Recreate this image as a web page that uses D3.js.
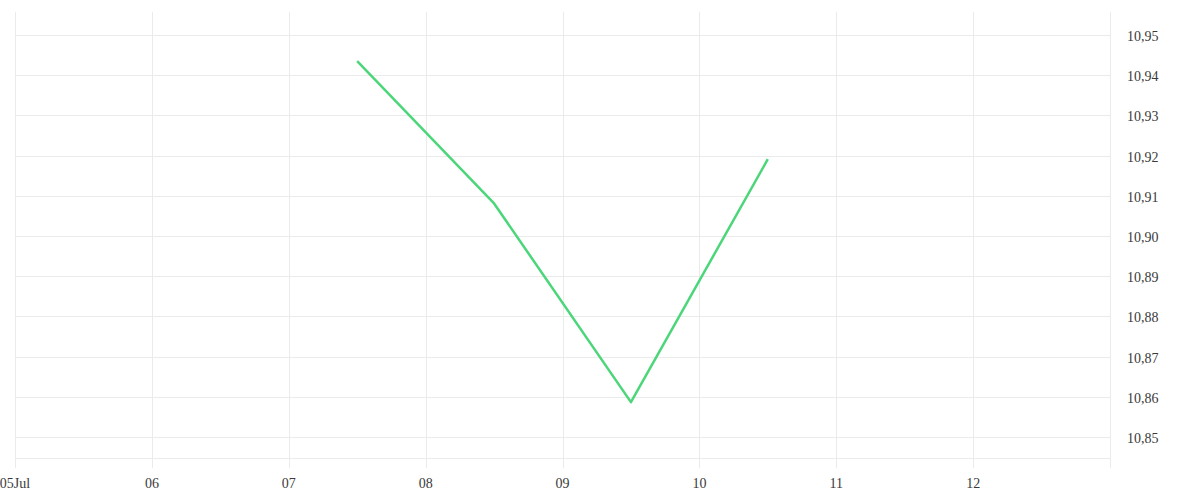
<!DOCTYPE html>
<html>
<head>
<meta charset="utf-8">
<script src="https://cdn.jsdelivr.net/npm/d3@7"></script>
<style>
  html, body { margin: 0; padding: 0; background: #fff; }
  svg text { font-family: "Liberation Serif", "DejaVu Serif", serif; font-size: 14px; fill: #3a3a3a; }
</style>
</head>
<body>
<svg id="chart" width="1200" height="500"></svg>
<script>
const dates = ["2024-07-07T12:00", "2024-07-08T12:00", "2024-07-09T12:00", "2024-07-10T12:00"];
const values = [10.9435, 10.9081, 10.8587, 10.9191];
const yTicks = [10.85, 10.86, 10.87, 10.88, 10.89, 10.90, 10.91, 10.92, 10.93, 10.94, 10.95];
const xTickDays = ["2024-07-05", "2024-07-06", "2024-07-07", "2024-07-08", "2024-07-09", "2024-07-10", "2024-07-11", "2024-07-12"];

const parse = d3.timeParse("%Y-%m-%dT%H:%M");
const parseDay = d3.timeParse("%Y-%m-%d");
const data = dates.map((d, i) => ({ date: parse(d), value: values[i] }));

const mLeft = 15, mRight = 1110, mTop = 12, mBottom = 458;
const svg = d3.select("#chart");

const x = d3.scaleTime()
  .domain([parseDay("2024-07-05"), parseDay("2024-07-13")])
  .range([mLeft, mRight]);
const y = d3.scaleLinear()
  .domain([10.8448, 10.9557])
  .range([mBottom, mTop]);

const gridColor = "#ebebeb";

svg.append("g").selectAll("line").data(yTicks).join("line")
  .attr("x1", mLeft).attr("x2", mRight)
  .attr("y1", d => Math.round(y(d)) + 0.5).attr("y2", d => Math.round(y(d)) + 0.5)
  .attr("stroke", gridColor);
svg.append("line")
  .attr("x1", mLeft).attr("x2", mRight)
  .attr("y1", mBottom + 0.5).attr("y2", mBottom + 0.5)
  .attr("stroke", gridColor);

const xTicks = xTickDays.map(parseDay);
svg.append("g").selectAll("line").data(xTicks).join("line")
  .attr("x1", d => Math.round(x(d)) + 0.5).attr("x2", d => Math.round(x(d)) + 0.5)
  .attr("y1", mTop).attr("y2", mBottom + 10)
  .attr("stroke", gridColor);
svg.append("line")
  .attr("x1", mRight + 0.5).attr("x2", mRight + 0.5)
  .attr("y1", mTop).attr("y2", mBottom + 10)
  .attr("stroke", gridColor);

const fmtDay = d3.timeFormat("%d");
svg.append("g").selectAll("text").data(xTicks).join("text")
  .attr("x", d => x(d))
  .attr("y", 488)
  .attr("text-anchor", "middle")
  .text((d, i) => i === 0 ? fmtDay(d) + "Jul" : fmtDay(d));

svg.append("g").selectAll("text").data(yTicks).join("text")
  .attr("x", 1127)
  .attr("y", d => y(d) + 6)
  .attr("text-anchor", "start")
  .text(d => d3.format(".2f")(d).replace(".", ","));

const line = d3.line().x(d => x(d.date)).y(d => y(d.value));
svg.append("path")
  .datum(data)
  .attr("d", line)
  .attr("fill", "none")
  .attr("stroke", "#4cd67a")
  .attr("stroke-width", 2.5)
  .attr("stroke-linejoin", "round");
</script>
</body>
</html>
